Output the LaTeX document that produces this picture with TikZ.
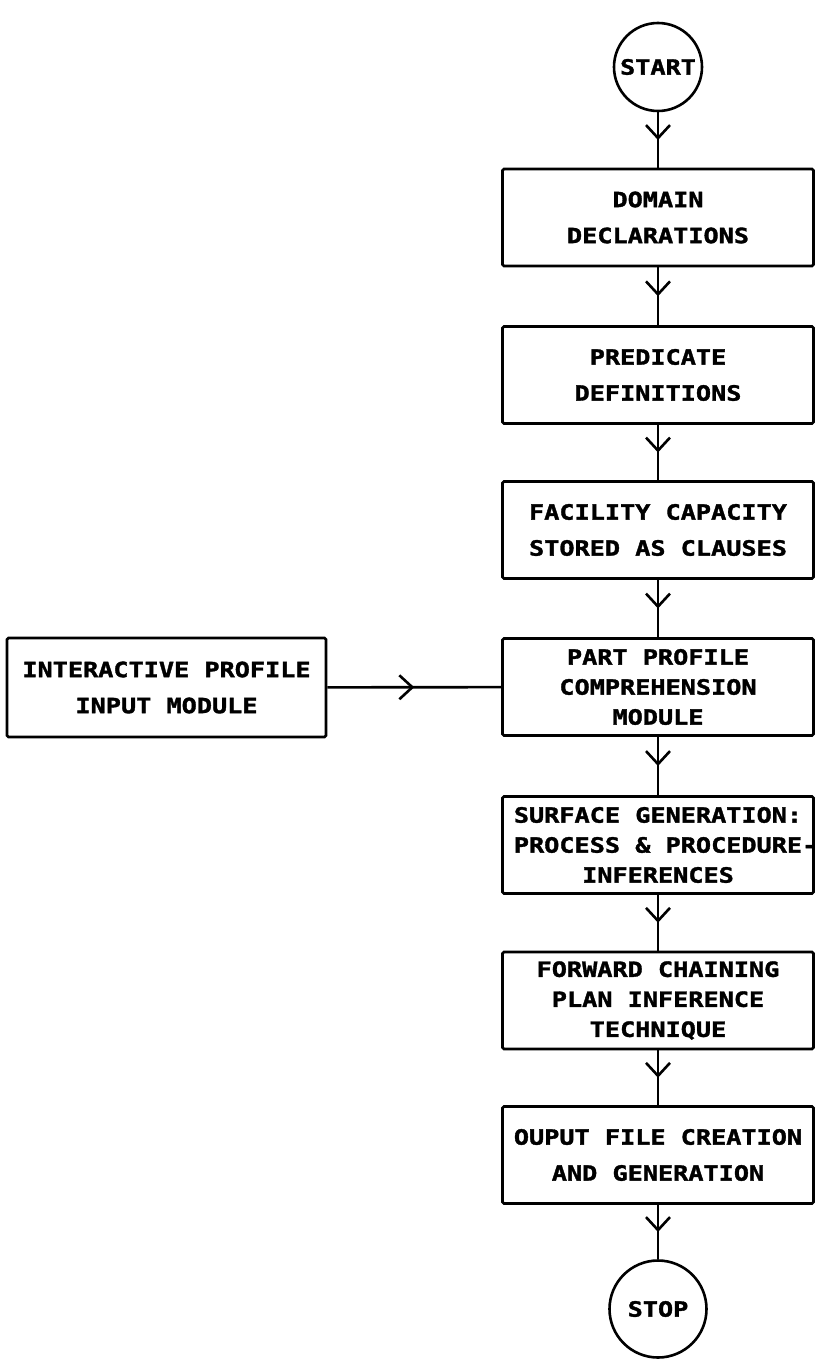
\documentclass[tikz,border=0pt]{standalone}
\usepackage{fontspec}
\usetikzlibrary{arrows.meta,decorations.markings}
% blocky plotter-style lettering
\newfontfamily\plotfont[FakeStretch=1.2,FakeBold=1.6]{DejaVu Sans Mono}

\tikzset{
  stepbox/.style={draw, line width=2.6pt, rounded corners=1.5pt,
    minimum width=311pt, minimum height=97pt, inner sep=0pt,
    align=center, font=\plotfont\bfseries\fontsize{21}{36}\selectfont},
  threeline/.style={font=\plotfont\bfseries\fontsize{21}{30}\selectfont},
  terminal/.style={draw, circle, line width=2.6pt, inner sep=0pt,
    font=\plotfont\bfseries\fontsize{21}{25}\selectfont},
  flow/.style={draw, line width=2.6pt, postaction={decorate},
    decoration={markings,
      mark=at position 0.5 with {\arrow[line width=2.6pt]{Straight Barb[length=13pt,width=24pt]}}}}
}

\begin{document}
\begin{tikzpicture}[x=1pt,y=-1pt]
  \useasboundingbox[fill=white] (0,0) rectangle (814,1362);

  % terminals
  \node[terminal, minimum size=88pt] (start) at (658,67) {START};
  \node[terminal, minimum size=97pt] (stop) at (658,1309) {STOP};

  % main chain of processing steps
  \node[stepbox] (domain) at (658,217.5) {DOMAIN\\DECLARATIONS};
  \node[stepbox] (pred) at (658,375) {PREDICATE\\DEFINITIONS};
  \node[stepbox] (facil) at (658,530) {FACILITY CAPACITY\\STORED AS CLAUSES};
  \node[stepbox, threeline] (part) at (658,687) {PART PROFILE\\COMPREHENSION\\MODULE};
  \node[stepbox, threeline] (surf) at (658,845) {SURFACE GENERATION:\\PROCESS \& PROCEDURE\rlap{-}\\INFERENCES};
  \node[stepbox, threeline] (fwd) at (658,1000.5) {FORWARD CHAINING\\PLAN INFERENCE\\TECHNIQUE};
  \node[stepbox] (out) at (658,1155) {OUPUT FILE CREATION\\AND GENERATION};

  % side input
  \node[stepbox, minimum width=319pt, minimum height=99pt] (inp) at (166.5,687.5)
    {INTERACTIVE PROFILE\\INPUT MODULE};

  % connectors
  \draw[flow] (start) -- (domain);
  \draw[flow] (domain) -- (pred);
  \draw[flow] (pred) -- (facil);
  \draw[flow] (facil) -- (part);
  \draw[flow] (part) -- (surf);
  \draw[flow] (surf) -- (fwd);
  \draw[flow] (fwd) -- (out);
  \draw[flow] (out) -- (stop);
  \draw[flow] (inp) -- (part);
\end{tikzpicture}
\end{document}
